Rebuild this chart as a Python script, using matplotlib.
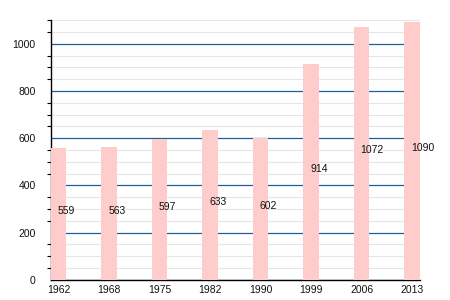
import matplotlib
matplotlib.use("Agg")
import matplotlib.pyplot as plt
from matplotlib.ticker import MultipleLocator

years = ["1962", "1968", "1975", "1982", "1990", "1999", "2006", "2013"]
population = [559, 563, 597, 633, 602, 914, 1072, 1090]

plt.rcParams['font.family'] = ['Liberation Sans', 'DejaVu Sans']

fig = plt.figure(figsize=(4.5, 3), dpi=100)
ax = fig.add_axes([0.113, 0.067, 0.82, 0.866])

x = list(range(len(years)))
w = 0.31
ax.bar(x, population, width=w, color='#ffcccc', zorder=3)

# value labels at half height, starting at bar centre
for xi, v in zip(x, population):
    ax.text(xi - 0.02, v / 2 + 12, str(v), ha='left', va='center',
            fontsize=7.5, color='#111111', zorder=4)

ax.set_xlim(-w / 2, len(years) - 1 + w / 2)
ax.set_ylim(0, 1100)
ax.set_xticks(x)
ax.set_xticklabels(years)
ax.yaxis.set_major_locator(MultipleLocator(200))
ax.yaxis.set_minor_locator(MultipleLocator(50))

# grid: light every 50, dark blue every 200
ax.grid(which='minor', axis='y', color='#e6e6e6', linewidth=0.8, zorder=0)
ax.grid(which='major', axis='y', color='#1f5f99', linewidth=0.9, zorder=1)

for s in ['top', 'right']:
    ax.spines[s].set_visible(False)
ax.spines['left'].set_linewidth(1.0)
ax.spines['bottom'].set_linewidth(1.0)

ax.tick_params(axis='x', length=0, labelsize=7.5, pad=4, labelcolor='#111111')
ax.tick_params(axis='y', which='major', length=0, labelsize=7.5, pad=11, labelcolor='#111111')
ax.tick_params(axis='y', which='minor', length=3, width=0.8)

plt.savefig("out.png", dpi=100)
